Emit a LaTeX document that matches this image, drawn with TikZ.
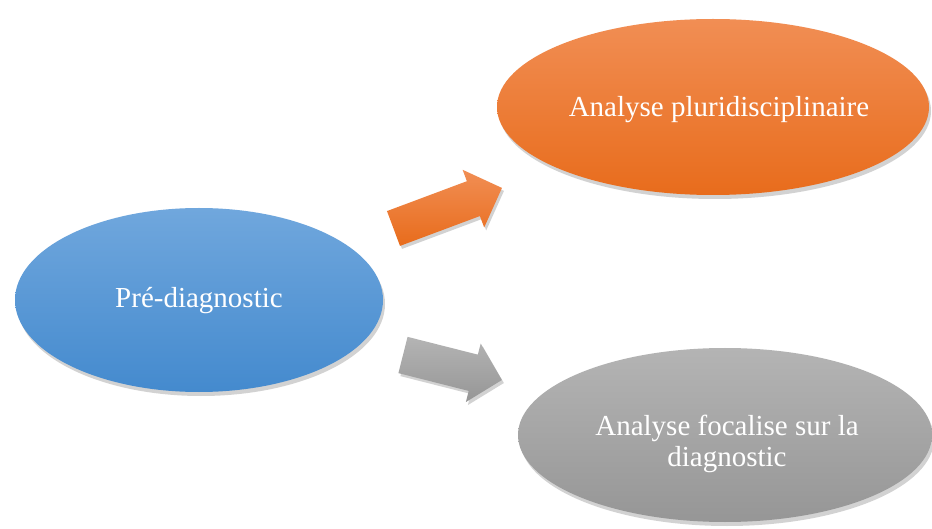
\documentclass[tikz,border=0pt]{standalone}
\usepackage{fontspec}
\setmainfont{Liberation Serif}
\usetikzlibrary{shapes.geometric,shadows}
\definecolor{bluetop}{RGB}{112,167,221}
\definecolor{bluebot}{RGB}{68,138,206}
\definecolor{orangetop}{RGB}{241,142,84}
\definecolor{orangebot}{RGB}{232,108,28}
\definecolor{graytop}{RGB}{180,180,180}
\definecolor{graybot}{RGB}{150,150,150}
\tikzset{
  blob/.style={ellipse, inner sep=0pt,
    drop shadow={opacity=0.35, shadow xshift=2pt, shadow yshift=-4pt}},
  blobtext/.style={text=white, align=center, inner sep=0pt,
    font=\fontsize{29}{31}\selectfont},
  arrowshape/.style={drop shadow={opacity=0.35, shadow xshift=2pt, shadow yshift=-3pt}}
}
\begin{document}
\begin{tikzpicture}[x=1pt,y=-1pt]
\useasboundingbox[fill=white] (0,0) rectangle (932,529);
\node[blob, minimum width=368pt, minimum height=184pt, top color=bluetop, bottom color=bluebot] (pre) at (199,300) {};
\node[blobtext] (pret) at (199,301) {Pré-diagnostic};
\node[blob, minimum width=432pt, minimum height=176pt, top color=orangetop, bottom color=orangebot] (pluri) at (713,107) {};
\node[blobtext] (plurit) at (719,110) {Analyse pluridisciplinaire};
\node[blob, minimum width=414pt, minimum height=174pt, top color=graytop, bottom color=graybot] (foc) at (725,435) {};
\node[blobtext] (foct) at (727,444) {Analyse focalise sur la\\diagnostic};
% block arrows
\begin{scope}[shift={(393.5,228.5)}, rotate=20.5]
  \path[arrowshape, top color=orangetop, bottom color=orangebot]
    (0,-18.6) -- (85.3,-18.6) -- (85.3,-30.8) -- (115.8,0) -- (85.3,30.8) -- (85.3,18.6) -- (0,18.6) -- cycle;
\end{scope}
\begin{scope}[shift={(403,355)}, rotate=-14.2]
  \path[arrowshape, top color=graytop, bottom color=graybot]
    (0,-18.7) -- (72.5,-18.7) -- (72.5,-30.2) -- (102,0) -- (72.5,30.2) -- (72.5,18.7) -- (0,18.7) -- cycle;
\end{scope}
\end{tikzpicture}
\end{document}
